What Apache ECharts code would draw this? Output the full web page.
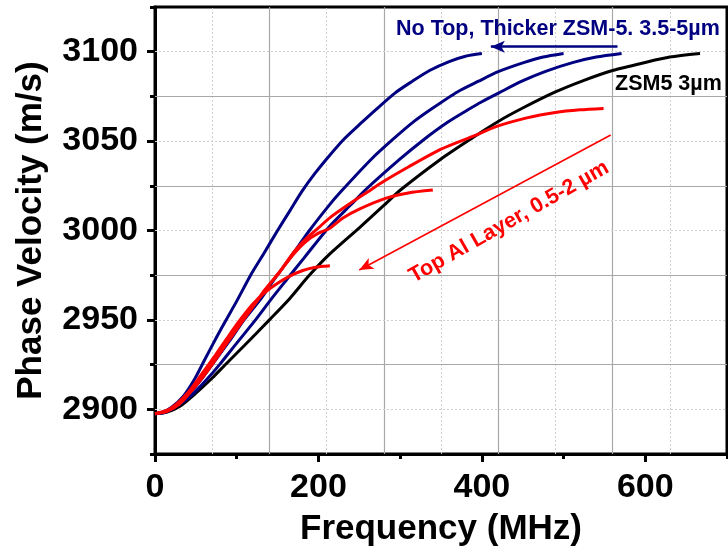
<!DOCTYPE html>
<html><head><meta charset="utf-8">
<script src="https://cdn.jsdelivr.net/npm/echarts@6/dist/echarts.min.js"></script>
<style>html,body{margin:0;padding:0;background:#fff}#c{width:728px;height:552px}</style>
</head><body><div id="c"></div>
<script>
// ---- axis ticks / grid ----
const xTickLabels = [0, 200, 400, 600];
const xMinorTicks = [100, 300, 500, 700];
const yTickLabels = [2900, 2950, 3000, 3050, 3100];
const yMinorTicks = [2875, 2925, 2975, 3025, 3075, 3125];
const xGridSolid = [140, 280, 420, 560];
const xGridDotted = [70, 210, 350, 490, 630];
const yGridSolid = [2925, 2975, 3025, 3075];
const yGridDotted = [2900, 2950, 3000, 3050, 3100];

// ---- series: [frequency MHz, phase velocity m/s] ----
const zsm5_3um = [[0,2897.5],[15,2898.5],[30,2901.5],[50,2909],[70,2917.5],[85,2924.5],[110,2936],[140,2950],[165,2962],[188,2974.5],[213,2986.5],[250,3001.5],[280,3014],[300,3022.5],[350,3040],[384,3050.5],[420,3061],[450,3068.5],[490,3077.5],[525,3084],[560,3089.5],[600,3094],[630,3097],[667,3099]];
const noTop1 = [[0,2897.5],[10,2898.5],[20,2901],[35,2907.5],[48,2916.5],[60,2927],[75,2940],[87,2950],[100,2960.5],[117,2975],[133,2987],[150,3000],[165,3011],[180,3022],[195,3031.5],[210,3040],[230,3050.5],[252,3060],[270,3067.5],[294,3077],[315,3083.5],[336,3089.5],[360,3094.5],[380,3097.5],[400,3099]];
const noTop2 = [[0,2897.5],[12,2898.5],[25,2901.5],[42,2908.5],[58,2917.5],[70,2925],[90,2937.5],[109,2950],[130,2962],[148,2974],[165,2984.5],[189,3000],[212,3013.5],[227,3021.5],[265,3040],[290,3050.5],[317,3061],[340,3068.5],[370,3077.5],[396,3083.5],[420,3088.8],[452,3094],[475,3097],[500,3099]];
const noTop3 = [[0,2897.5],[13,2898.5],[26,2901.5],[44,2907.5],[61,2915.5],[79,2925],[100,2937],[123,2950],[142,2961.5],[162,2973],[183,2985],[213,3002],[240,3014.5],[257,3022.5],[300,3040],[328,3050.5],[358,3060.5],[383,3067.5],[400,3072],[421,3077],[449,3083.5],[478,3089],[512,3094],[540,3097],[571,3099]];
const alTop1 = [[0,2897.5],[15,2899.5],[30,2904.5],[45,2912],[60,2921.5],[75,2931],[90,2941],[105,2950.5],[120,2959],[135,2965.5],[150,2970.5],[165,2974.5],[180,2977.5],[195,2979.3],[214,2980.3]];
const alTop2 = [[0,2897.5],[15,2899],[30,2903],[45,2910.5],[60,2919],[75,2928.5],[90,2938.5],[105,2948],[120,2957.5],[135,2967],[152,2976.5],[170,2987],[185,2994],[200,2998.5],[213,3001],[230,3007],[250,3012],[282,3018],[310,3021],[340,3022.6]];
const alTop3 = [[0,2897.5],[15,2899],[30,2903],[45,2910.5],[60,2919],[75,2928.5],[90,2938.5],[105,2948],[120,2957.5],[135,2967],[152,2976.5],[170,2988],[185,2995.5],[200,3001.5],[215,3007.5],[240,3015.5],[260,3021.5],[280,3027.5],[310,3035.5],[350,3045.5],[388,3052.5],[420,3058.5],[455,3063],[490,3066],[520,3067.5],[549,3068.3]];

// ---- annotation arrows (data space) ----
const blueArrow = [[566, 3102.8], [411, 3102.8]];
const redArrow = [[557.7, 3053.4], [250, 2977.9]];

const FONT = "'Liberation Sans', Arial, sans-serif";
const NAVY = '#000080', RED = '#ff0000';

const gridLines = [];
xGridSolid.forEach(v => gridLines.push({xAxis: v, lineStyle: {type: 'solid', color: '#a8a8a8', width: 1.2}}));
xGridDotted.forEach(v => gridLines.push({xAxis: v, lineStyle: {type: [2, 2], color: '#cfcfcf', width: 1}}));
yGridSolid.forEach(v => gridLines.push({yAxis: v, lineStyle: {type: 'solid', color: '#a8a8a8', width: 1.2}}));
yGridDotted.forEach(v => gridLines.push({yAxis: v, lineStyle: {type: [2, 2], color: '#cfcfcf', width: 1}}));

function curve(name, data, color) {
  return {name, type: 'line', data, smooth: 0.25, showSymbol: false, symbol: 'none',
    lineStyle: {color, width: 3}, z: 5, xAxisIndex: 0, yAxisIndex: 0};
}

const chart = echarts.init(document.getElementById('c'), null, {renderer: 'canvas'});
chart.setOption({
  animation: false,
  backgroundColor: '#fff',
  grid: {left: 155, top: 7, right: 1, bottom: 94, show: true, borderColor: '#000', borderWidth: 3, backgroundColor: 'transparent'},
  xAxis: [
    {type: 'value', min: 0, max: 700, position: 'bottom',
     name: 'Frequency (MHz)', nameLocation: 'middle', nameGap: 58,
     nameTextStyle: {fontFamily: FONT, fontWeight: 'bold', fontSize: 35, color: '#000'},
     axisLine: {show: true, lineStyle: {color: '#000', width: 3}},
     axisTick: {show: true, inside: false, length: 8, lineStyle: {color: '#000', width: 3}, customValues: xTickLabels},
     axisLabel: {show: true, margin: 17, fontFamily: FONT, fontWeight: 'bold', fontSize: 34, color: '#000', customValues: xTickLabels, formatter: v => String(v)},
     splitLine: {show: false}},
    {type: 'value', min: 0, max: 700, position: 'bottom', gridIndex: 0,
     axisLine: {show: false}, axisLabel: {show: false}, splitLine: {show: false},
     axisTick: {show: true, inside: false, length: 5, lineStyle: {color: '#000', width: 3}, customValues: xMinorTicks}}
  ],
  yAxis: [
    {type: 'value', min: 2875, max: 3125, position: 'left',
     name: 'Phase Velocity (m/s)', nameLocation: 'middle', nameGap: 106, nameRotate: 90,
     nameTextStyle: {fontFamily: FONT, fontWeight: 'bold', fontSize: 35, color: '#000'},
     axisLine: {show: true, lineStyle: {color: '#000', width: 3}},
     axisTick: {show: true, inside: false, length: 8, lineStyle: {color: '#000', width: 3}, customValues: yTickLabels},
     axisLabel: {show: true, margin: 17, fontFamily: FONT, fontWeight: 'bold', fontSize: 34, color: '#000', customValues: yTickLabels, formatter: v => String(v)},
     splitLine: {show: false}},
    {type: 'value', min: 2875, max: 3125, position: 'left',
     axisLine: {show: false}, axisLabel: {show: false}, splitLine: {show: false},
     axisTick: {show: true, inside: false, length: 5, lineStyle: {color: '#000', width: 3}, customValues: yMinorTicks}}
  ],
  series: [
    {type: 'line', name: 'grid', data: [], z: 1, silent: true,
     markLine: {silent: true, symbol: ['none', 'none'], label: {show: false}, animation: false, data: gridLines}},
    curve('ZSM5 3µm', zsm5_3um, '#000'),
    curve('No Top 1', noTop1, NAVY),
    curve('No Top 2', noTop2, NAVY),
    curve('No Top 3', noTop3, NAVY),
    curve('Top Al 1', alTop1, RED),
    curve('Top Al 2', alTop2, RED),
    curve('Top Al 3', alTop3, RED),
    {type: 'line', name: 'arrows', data: [], z: 6, silent: true,
     markLine: {silent: true, animation: false, label: {show: false}, symbol: ['none', 'arrow'],
       data: [
         [{coord: blueArrow[0], symbol: 'none', lineStyle: {color: NAVY, width: 2.5, type: 'solid'}},
          {coord: blueArrow[1], symbol: 'arrow', symbolSize: [9, 14]}],
         [{coord: redArrow[0], symbol: 'none', lineStyle: {color: RED, width: 1.6, type: 'solid'}},
          {coord: redArrow[1], symbol: 'arrow', symbolSize: [9, 14]}]
       ]}}
  ],
  graphic: [
    {type: 'text', left: 396, top: 18, z: 10, style: {text: 'No Top, Thicker ZSM-5. 3.5-5µm', fill: NAVY, font: 'bold 21.5px ' + FONT}},
    {type: 'text', left: 615, top: 73, z: 10, style: {text: 'ZSM5 3µm', fill: '#000', font: 'bold 21.5px ' + FONT}},
    {type: 'text', x: 509, y: 222, rotation: 0.517, z: 10, style: {text: 'Top Al Layer, 0.5-2 µm', fill: RED, font: 'bold 21.5px ' + FONT, align: 'center', verticalAlign: 'middle'}}
  ]
});
</script></body></html>
